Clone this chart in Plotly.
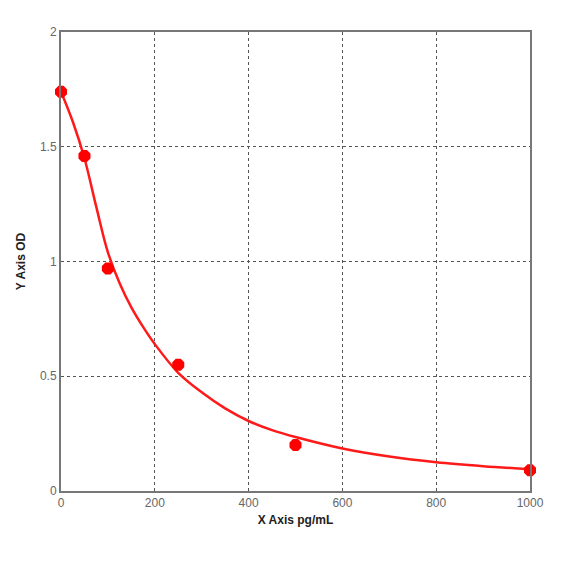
import plotly.graph_objects as go

# Standard points
conc = [0, 50, 100, 250, 500, 1000]
od = [1.74, 1.46, 0.97, 0.55, 0.20, 0.09]

# Fitted curve
curve_x = [0, 25, 50, 75, 100, 125, 150, 175, 200, 250, 300, 350, 400, 450, 500, 600, 700, 800, 900, 1000]
curve_y = [1.74, 1.61, 1.45, 1.24, 1.04, 0.905, 0.80, 0.715, 0.64, 0.515, 0.43, 0.36, 0.305, 0.265, 0.235, 0.185, 0.15, 0.125, 0.108, 0.095]

x_ticks = [0, 200, 400, 600, 800, 1000]
y_ticks = [0, 0.5, 1, 1.5, 2]
y_tick_text = ["0", "0.5", "1", "1.5", "2"]

fig = go.Figure()
fig.add_trace(go.Scatter(x=curve_x, y=curve_y, mode="lines",
                         line=dict(color="#ff1a1a", width=2.5, shape="spline", smoothing=1.0),
                         hoverinfo="skip", showlegend=False))
fig.add_trace(go.Scatter(x=conc, y=od, mode="markers",
                         marker=dict(color="#ff0000", symbol="octagon", size=13),
                         showlegend=False, cliponaxis=False))

axis_common = dict(showline=True, linecolor="#777777", linewidth=2, mirror=True,
                   showgrid=True, gridcolor="#555555", griddash="dot", gridwidth=1,
                   zeroline=False, ticks="", tickfont=dict(family="Arial, Liberation Sans", size=12, color="#666666"))

fig.update_xaxes(range=[0, 1000], tickvals=x_ticks, ticktext=[str(v) for v in x_ticks],
                 title=dict(text="<b>X Axis pg/mL</b>", font=dict(family="Arial, Liberation Sans", size=12, color="#222222"), standoff=6),
                 **axis_common)
fig.update_yaxes(range=[0, 2], tickvals=y_ticks, ticktext=y_tick_text,
                 title=dict(text="<b>Y Axis OD</b>", font=dict(family="Arial, Liberation Sans", size=12, color="#222222"), standoff=12),
                 **axis_common)

fig.update_layout(width=578, height=578, plot_bgcolor="white", paper_bgcolor="white",
                  margin=dict(l=50, r=56, t=24, b=95))

fig.write_html("out.html")
